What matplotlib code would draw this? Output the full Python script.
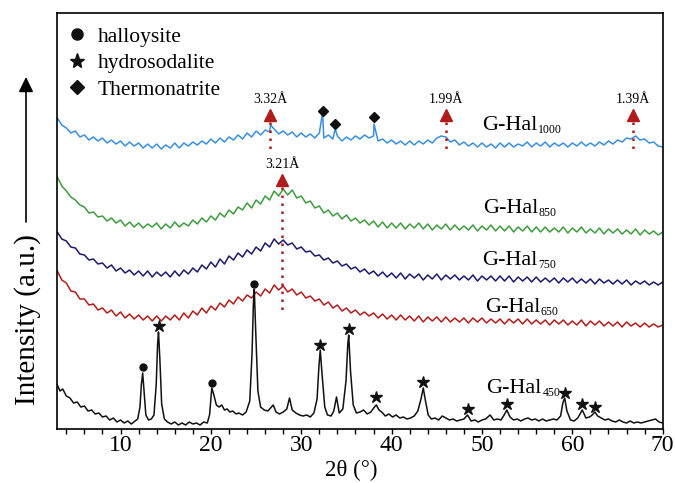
import numpy as np
import matplotlib
matplotlib.use('Agg')
import matplotlib.pyplot as plt
from matplotlib.ticker import MultipleLocator
from matplotlib.lines import Line2D

plt.rcParams['font.family'] = ['Liberation Serif', 'DejaVu Serif']

# 2theta grid of the amorphous patterns (every 0.5 deg)
tt = np.arange(3.0, 70.25, 0.5)

# intensities (arbitrary units, stacked offsets included)
hal1000 = [311, 304, 301, 296, 298, 292, 294, 289, 292, 288,
           291, 286, 289, 285, 288, 283, 287, 283, 286, 281,
           285, 281, 285, 280, 284, 281, 286, 281, 286, 283,
           287, 284, 288, 285, 290, 286, 291, 287, 292, 289,
           294, 290, 296, 292, 298, 294, 299, 297, 300, 295,
           298, 294, 297, 292, 296, 292, 295, 291, 296, 291,
           294, 290, 293, 288, 292, 289, 293, 290, 294, 291,
           293, 288, 290, 286, 289, 285, 288, 284, 288, 284,
           288, 285, 289, 286, 291, 293, 292, 287, 289, 284,
           287, 283, 286, 282, 286, 282, 285, 281, 286, 282,
           286, 282, 285, 283, 287, 282, 286, 283, 287, 282,
           286, 283, 286, 282, 286, 283, 287, 283, 286, 283,
           287, 284, 288, 285, 289, 287, 291, 290, 293, 289,
           290, 286, 287, 283, 282]
# sharp reflections of G-Hal1000 (2theta, intensity)
peaks1000 = [(26.6, 304), (32.35, 316), (33.75, 300), (38.05, 305)]

hal850 = [252, 243, 238, 232, 229, 224, 222, 216, 217, 212,
          213, 208, 211, 206, 209, 203, 207, 202, 206, 201,
          205, 202, 206, 200, 205, 201, 207, 202, 206, 203,
          209, 205, 211, 207, 213, 209, 216, 212, 219, 215,
          222, 219, 226, 221, 229, 225, 233, 229, 238, 233,
          240, 234, 239, 231, 233, 226, 228, 221, 223, 216,
          219, 213, 216, 210, 214, 208, 211, 206, 209, 204,
          208, 202, 207, 201, 206, 201, 206, 200, 205, 201,
          206, 200, 205, 199, 204, 200, 205, 199, 204, 199,
          203, 199, 204, 198, 203, 199, 204, 198, 203, 198,
          203, 197, 202, 198, 203, 197, 202, 197, 202, 197,
          201, 197, 202, 196, 201, 197, 202, 196, 200, 196,
          201, 195, 200, 196, 200, 195, 199, 195, 200, 194,
          199, 195, 198, 194, 197]

hal750 = [197, 190, 188, 182, 181, 175, 174, 169, 170, 165,
          166, 161, 164, 158, 161, 156, 159, 154, 158, 153,
          158, 152, 157, 153, 157, 152, 158, 153, 159, 155,
          161, 157, 164, 160, 167, 162, 170, 165, 173, 169,
          176, 172, 179, 175, 182, 178, 186, 182, 190, 185,
          189, 184, 186, 180, 182, 177, 178, 173, 174, 169,
          171, 166, 168, 163, 165, 160, 162, 157, 160, 155,
          158, 153, 157, 152, 156, 151, 156, 150, 155, 151,
          155, 149, 154, 150, 155, 149, 154, 150, 154, 149,
          153, 149, 154, 148, 153, 149, 153, 148, 153, 148,
          153, 147, 152, 148, 152, 147, 152, 147, 151, 147,
          151, 146, 151, 147, 151, 146, 150, 146, 150, 145,
          150, 146, 149, 145, 149, 145, 149, 144, 148, 145,
          148, 144, 147, 144, 147]

hal650 = [158, 149, 146, 138, 137, 130, 130, 124, 125, 119,
          121, 116, 119, 113, 117, 111, 115, 110, 114, 109,
          113, 108, 113, 108, 113, 109, 114, 109, 116, 111,
          118, 114, 121, 116, 123, 119, 126, 122, 129, 125,
          132, 128, 134, 131, 137, 133, 140, 136, 144, 139,
          143, 137, 140, 134, 137, 131, 133, 128, 130, 124,
          127, 121, 124, 118, 121, 116, 119, 114, 117, 113,
          116, 111, 115, 110, 114, 109, 114, 109, 113, 108,
          113, 107, 112, 108, 112, 107, 112, 107, 111, 107,
          111, 106, 111, 107, 111, 106, 110, 106, 110, 105,
          110, 106, 110, 105, 110, 105, 109, 105, 109, 104,
          109, 105, 109, 104, 108, 104, 109, 103, 108, 104,
          108, 103, 107, 103, 107, 102, 107, 103, 106, 102,
          106, 102, 105, 102, 104]

# crystalline G-Hal450 pattern (2theta, intensity)
hal450 = [(3.0, 44), (3.3, 38), (3.6, 40), (4.0, 33), (4.4, 31), (4.8, 26), (5.2, 27),
          (5.6, 22), (6.0, 23), (6.4, 18), (6.8, 19), (7.2, 15), (7.6, 16), (8.0, 12),
          (8.4, 13), (8.8, 9), (9.2, 11), (9.6, 7), (10.0, 9), (10.4, 6), (10.8, 8),
          (11.2, 5), (11.6, 8), (11.9, 10), (12.15, 22), (12.3, 44), (12.45, 56),
          (12.6, 38), (12.8, 14), (13.1, 9), (13.4, 10), (13.7, 14), (13.95, 45),
          (14.1, 85), (14.2, 97), (14.35, 70), (14.55, 25), (14.85, 10), (15.2, 7),
          (15.6, 5), (16.0, 7), (16.4, 4), (16.8, 6), (17.2, 4), (17.6, 7), (18.0, 5),
          (18.4, 6), (18.8, 4), (19.2, 7), (19.6, 6), (19.85, 14), (20.1, 41), (20.3, 35),
          (20.6, 24), (20.9, 22), (21.2, 24), (21.5, 19), (21.8, 20), (22.1, 17),
          (22.4, 18), (22.8, 15), (23.1, 16), (23.5, 14), (23.9, 17), (24.3, 28),
          (24.55, 75), (24.7, 125), (24.8, 140), (24.95, 100), (25.2, 38), (25.5, 22),
          (25.9, 19), (26.3, 18), (26.9, 24), (27.2, 17), (27.6, 15), (28.0, 17),
          (28.4, 20), (28.7, 31), (29.0, 19), (29.4, 16), (29.8, 14), (30.2, 13),
          (30.6, 14), (31.0, 12), (31.4, 16), (31.75, 30), (31.95, 62), (32.1, 79),
          (32.3, 55), (32.6, 22), (32.9, 14), (33.3, 13), (33.6, 18), (33.9, 32),
          (34.2, 16), (34.6, 20), (34.95, 48), (35.15, 85), (35.25, 94), (35.45, 58),
          (35.75, 24), (36.1, 16), (36.5, 17), (36.9, 19), (37.3, 15), (37.7, 17),
          (38.1, 22), (38.3, 24), (38.6, 19), (38.9, 17), (39.3, 13), (39.7, 15),
          (40.1, 12), (40.5, 14), (40.9, 11), (41.3, 12), (41.7, 10), (42.1, 11),
          (42.5, 13), (42.9, 18), (43.25, 30), (43.5, 41), (43.75, 28), (44.05, 14),
          (44.4, 10), (44.8, 11), (45.2, 9), (45.6, 13), (46.0, 11), (46.4, 9),
          (46.8, 10), (47.2, 8), (47.6, 9), (48.0, 10), (48.4, 14), (48.8, 8),
          (49.2, 9), (49.6, 7), (50.0, 9), (50.4, 10), (50.9, 14), (51.3, 9),
          (51.7, 10), (52.1, 9), (52.45, 14), (52.75, 19), (53.1, 12), (53.5, 9),
          (53.9, 10), (54.3, 8), (54.7, 10), (55.1, 11), (55.5, 9), (55.9, 10),
          (56.3, 8), (56.7, 10), (57.1, 8), (57.5, 9), (57.9, 10), (58.3, 9),
          (58.7, 13), (58.95, 26), (59.15, 31), (59.4, 18), (59.8, 9), (60.2, 8),
          (60.6, 11), (61.1, 19), (61.5, 11), (61.9, 12), (62.2, 14), (62.5, 17),
          (62.8, 13), (63.2, 11), (63.6, 9), (64.0, 10), (64.4, 8), (64.8, 7),
          (65.2, 9), (65.6, 7), (66.0, 6), (66.4, 8), (66.8, 6), (67.2, 7),
          (67.6, 6), (68.0, 7), (68.4, 8), (68.8, 9), (69.2, 10), (69.6, 7), (70.0, 6)]

# phase markers
circ_x = [12.45, 20.1, 24.8]
circ_y = [62, 46, 145]
star_x = [14.2, 32.1, 35.25, 38.3, 43.5, 48.4, 52.75, 59.15, 61.1, 62.5]
star_y = [103, 84, 100, 32, 47, 20, 25, 36, 25, 22]
diam_x = [32.35, 33.75, 38.05]
diam_y = [318, 305, 312]

# d-spacing marks: label, 2theta, triangle height, dotted line bottom
d_lab = ['3.32Å', '3.21Å', '1.99Å', '1.39Å']
d_pos = [26.57, 27.9, 46.0, 66.7]
d_tri = [314, 249, 314, 314]
d_bot = [276, 116, 276, 276]

# sample labels: subscript, 2theta of left edge, baseline height
names = ['1000', '850', '750', '650', '450']
name_x = [50.0, 50.1, 50.0, 50.3, 50.5]
name_y = [299, 216, 164, 117, 36]

for arr in (hal1000, hal850, hal750, hal650):
    assert len(arr) == len(tt)

fig = plt.figure(figsize=(6.75, 4.83), dpi=100)
ax = fig.add_axes([57.3 / 675, 54 / 483, 605.4 / 675, 416 / 483])

p1000 = sorted(list(zip(tt, hal1000)) + peaks1000)
x1000, y1000 = zip(*p1000)
x450, y450 = zip(*hal450)

ax.plot(x1000, y1000, color='#3a8fe0', lw=1.1)
ax.plot(tt, hal850, color='#3f9c3f', lw=1.1)
ax.plot(tt, hal750, color='#1d1a6c', lw=1.1)
ax.plot(tt, hal650, color='#b31c1c', lw=1.1)
ax.plot(x450, y450, color='#111111', lw=1.1)

ax.plot(circ_x, circ_y, 'o', color='#111111', ms=5)
ax.plot(star_x, star_y, '*', color='#111111', ms=9)
ax.plot(diam_x, diam_y, 'D', color='#111111', ms=5.5)

for lab, x, yt, yb in zip(d_lab, d_pos, d_tri, d_bot):
    ax.plot([x, x], [yt - 7, yb], color='#b31c1c', lw=1.8, ls=(0, (1, 2.2)))
    ax.plot(x, yt, '^', color='#b01c1c', ms=9)
    ax.text(x, yt + 12, lab, fontsize=10, ha='center', va='baseline')

for sub, x, y in zip(names, name_x, name_y):
    t = ax.text(x, y, 'G-Hal', fontsize=16, ha='left', va='baseline')
    ax.annotate(sub, xy=(1, 0), xycoords=t, xytext=(0.5, -0.5),
                textcoords='offset points', fontsize=8.5, ha='left', va='bottom')

handles = [Line2D([], [], ls='none', marker='o', color='#111111', ms=8),
           Line2D([], [], ls='none', marker='*', color='#111111', ms=11),
           Line2D([], [], ls='none', marker='D', color='#111111', ms=7)]
ax.legend(handles, ['halloysite', 'hydrosodalite', 'Thermonatrite'],
          loc='upper left', bbox_to_anchor=(0.0149, 0.967), frameon=False,
          fontsize=15.5, handlelength=1.0, handletextpad=0.45,
          borderaxespad=0, borderpad=0, labelspacing=0.3)

ax.set_xlim(3, 70)
ax.set_ylim(0, 416)
ax.xaxis.set_major_locator(MultipleLocator(10))
ax.xaxis.set_minor_locator(MultipleLocator(2))
ax.tick_params(axis='x', which='both', direction='out', length=3.5, width=1,
               labelsize=17, pad=0.5)
ax.set_yticks([])
for s in ax.spines.values():
    s.set_linewidth(1.2)

ax.set_xlabel('2θ (°)', fontsize=16.5)
ax.xaxis.set_label_coords(0.485, -0.074)

fig.text(28 / 675, 1 - 320 / 483, 'Intensity (a.u.)', fontsize=21,
         rotation=90, ha='center', va='center')
ax.annotate('', xy=(26 / 675, 1 - 77 / 483), xytext=(26 / 675, 1 - 222 / 483),
            xycoords='figure fraction',
            arrowprops=dict(arrowstyle='-|>,head_length=0.45,head_width=0.22',
                            mutation_scale=20, lw=1.2, color='black',
                            shrinkA=0, shrinkB=0))

fig.savefig('out.png', dpi=100)
